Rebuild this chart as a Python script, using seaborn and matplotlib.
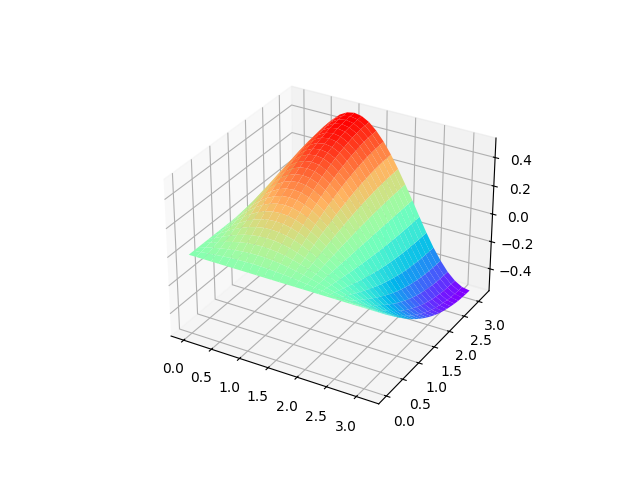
import matplotlib
matplotlib.use("Agg")
import matplotlib.pyplot as plt
import numpy as np
import seaborn as sns

# grid positions along both axes
x_vals = [0, .131, .262, .393, .524, .654, .785, .916, 1.047, 1.178, 1.309, 1.440, 1.571,
          1.702, 1.833, 1.963, 2.094, 2.225, 2.356, 2.487, 2.618, 2.749, 2.880, 3.011, 3.142]
y_vals = [0, .131, .262, .393, .524, .654, .785, .916, 1.047, 1.178, 1.309, 1.440, 1.571,
          1.702, 1.833, 1.963, 2.094, 2.225, 2.356, 2.487, 2.618, 2.749, 2.880, 3.011, 3.142]

# surface heights, one row per x value
z_vals = [
    [0]*25,
    [0, .007, .013, .020, .026, .032, .038, .044, .050, .056, .061, .066, .071, .075, .079, .083, .087, .090, .092, .095, .097, .098, .099, .100, .100],
    [0, .013, .026, .039, .051, .063, .075, .087, .098, .109, .119, .130, .139, .148, .156, .164, .170, .176, .182, .186, .190, .193, .195, .196, .196],
    [0, .019, .037, .056, .073, .092, .109, .126, .143, .158, .173, .188, .202, .215, .226, .237, .247, .256, .264, .270, .276, .280, .283, .285, .285],
    [0, .024, .047, .071, .093, .117, .139, .160, .182, .201, .221, .240, .257, .273, .288, .302, .314, .325, .335, .343, .351, .356, .360, .362, .363],
    [0, .028, .056, .084, .110, .137, .163, .189, .214, .237, .259, .282, .302, .321, .338, .355, .369, .382, .394, .403, .412, .418, .423, .425, .426],
    [0, .031, .062, .093, .122, .152, .181, .210, .237, .263, .288, .313, .335, .357, .376, .395, .410, .425, .438, .448, .458, .465, .470, .473, .474],
    [0, .033, .066, .099, .129, .162, .192, .223, .252, .280, .306, .333, .356, .379, .399, .419, .436, .451, .465, .476, .487, .493, .499, .502, .503],
    [0, .034, .067, .101, .132, .165, .196, .227, .257, .285, .312, .339, .363, .386, .407, .427, .444, .460, .474, .485, .496, .503, .509, .512, .513],
    [0, .033, .066, .099, .129, .162, .192, .223, .252, .280, .306, .333, .356, .379, .399, .419, .436, .451, .465, .476, .487, .493, .499, .502, .503],
    [0, .031, .062, .093, .122, .152, .181, .210, .237, .263, .288, .313, .335, .357, .376, .395, .410, .425, .438, .448, .458, .465, .470, .473, .474],
    [0, .028, .056, .084, .110, .137, .163, .189, .214, .237, .259, .282, .302, .321, .338, .355, .369, .382, .394, .403, .412, .418, .423, .425, .426],
    [0, .024, .047, .071, .093, .117, .139, .160, .182, .201, .221, .240, .257, .273, .288, .302, .314, .325, .335, .343, .351, .356, .360, .362, .363],
    [0, .019, .037, .056, .073, .092, .109, .126, .143, .158, .173, .188, .202, .215, .226, .237, .247, .256, .264, .270, .276, .280, .283, .285, .285],
    [0, .013, .026, .039, .051, .063, .075, .087, .098, .109, .119, .130, .139, .148, .156, .164, .170, .176, .182, .186, .190, .193, .195, .196, .196],
    [0, .007, .013, .020, .026, .032, .038, .044, .050, .056, .061, .066, .071, .075, .079, .083, .087, .090, .092, .095, .097, .098, .099, .100, .100],
    [0]*25,
    [0, -.007, -.015, -.022, -.029, -.036, -.043, -.050, -.056, -.062, -.068, -.073, -.078, -.082, -.087, -.090, -.094, -.096, -.099, -.101, -.102, -.104, -.105, -.105, -.105],
    [0, -.015, -.029, -.044, -.057, -.071, -.085, -.098, -.110, -.122, -.133, -.144, -.153, -.162, -.170, -.177, -.184, -.189, -.194, -.198, -.201, -.204, -.205, -.206, -.207],
    [0, -.021, -.042, -.063, -.083, -.103, -.123, -.142, -.160, -.177, -.193, -.209, -.222, -.235, -.247, -.257, -.267, -.275, -.281, -.287, -.292, -.296, -.298, -.300, -.301],
    [0, -.027, -.054, -.081, -.106, -.132, -.156, -.180, -.204, -.226, -.246, -.265, -.283, -.299, -.314, -.327, -.339, -.349, -.358, -.365, -.371, -.376, -.379, -.381, -.382],
    [0, -.032, -.063, -.095, -.125, -.155, -.184, -.212, -.239, -.265, -.289, -.312, -.332, -.352, -.369, -.385, -.399, -.411, -.420, -.429, -.436, -.442, -.445, -.448, -.450],
    [0, -.035, -.070, -.105, -.139, -.172, -.204, -.236, -.266, -.295, -.322, -.347, -.370, -.391, -.410, -.428, -.444, -.456, -.468, -.477, -.485, -.492, -.495, -.498, -.500],
    [0, -.037, -.075, -.112, -.147, -.182, -.217, -.250, -.283, -.313, -.341, -.368, -.392, -.415, -.436, -.454, -.471, -.485, -.496, -.506, -.515, -.522, -.526, -.529, -.531],
    [0, -.038, -.076, -.114, -.150, -.186, -.221, -.255, -.288, -.319, -.348, -.375, -.400, -.423, -.444, -.463, -.480, -.494, -.506, -.516, -.525, -.532, -.536, -.539, -.541],
]

X, Y = np.meshgrid(x_vals, y_vals, indexing="ij")
Z = np.array(z_vals)

rainbow = sns.color_palette("rainbow", as_cmap=True)

fig = plt.figure(figsize=(6.4, 4.8))
ax = fig.add_subplot(projection="3d")
ax.plot_surface(X, Y, Z, rstride=1, cstride=1, cmap=rainbow, linewidth=0)

plt.savefig("out.png", dpi=100)
